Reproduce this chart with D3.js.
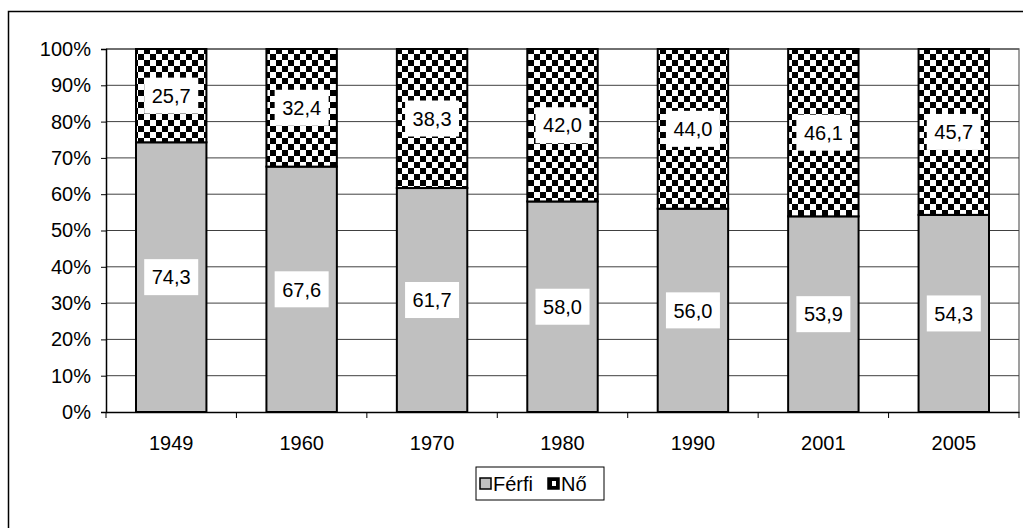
<!DOCTYPE html>
<html>
<head>
<meta charset="utf-8">
<script src="https://cdn.jsdelivr.net/npm/d3@7"></script>
<style>
  body { margin: 0; background: #fff; }
  svg { display: block; font-family: Arial, "Liberation Sans", sans-serif; }
</style>
</head>
<body>
<svg id="chart" width="1023" height="528"></svg>
<script>
const years = ['1949', '1960', '1970', '1980', '1990', '2001', '2005'];
const ferfi = [74.3, 67.6, 61.7, 58.0, 56.0, 53.9, 54.3];
const no = [25.7, 32.4, 38.3, 42.0, 44.0, 46.1, 45.7];
const yTicks = [0, 10, 20, 30, 40, 50, 60, 70, 80, 90, 100];
const seriesNames = ['Férfi', 'Nő'];

const svg = d3.select('#chart');
const plotLeft = 106, plotRight = 1019, plotTop = 49, plotBottom = 412;
const fontSize = '20px';

// checker pattern for the second series
const defs = svg.append('defs');
const pat = defs.append('pattern')
    .attr('id', 'checker')
    .attr('patternUnits', 'userSpaceOnUse')
    .attr('width', 12)
    .attr('height', 12);
pat.append('rect').attr('width', 12).attr('height', 12).attr('fill', '#fff');
pat.append('rect').attr('width', 6).attr('height', 6).attr('fill', '#000');
pat.append('rect').attr('x', 6).attr('y', 6).attr('width', 6).attr('height', 6).attr('fill', '#000');

// outer frame
svg.append('rect')
    .attr('x', 8.5).attr('y', 11.5)
    .attr('width', 1100).attr('height', 700)
    .attr('fill', 'none')
    .attr('stroke', '#000')
    .attr('stroke-width', 1.5);

const x = d3.scaleBand().domain(years).range([plotLeft, plotRight]).paddingInner(0.46).paddingOuter(0.23);
const y = d3.scaleLinear().domain([0, 100]).range([plotBottom, plotTop]);

// plot area border (top/right grey)
svg.append('path')
    .attr('d', `M${plotLeft},${plotTop}H${plotRight}V${plotBottom}`)
    .attr('fill', 'none')
    .attr('stroke', '#808080')
    .attr('stroke-width', 1.5);

// gridlines
svg.append('g')
    .selectAll('line')
    .data(yTicks.filter(d => d > 0))
    .enter()
    .append('line')
    .attr('x1', plotLeft).attr('x2', plotRight)
    .attr('y1', d => y(d)).attr('y2', d => y(d))
    .attr('stroke', '#404040')
    .attr('stroke-width', 1);

// stacked bars
const stack = years.map((yr, i) => ({ year: yr, segs: [
    { name: 'Férfi', v: ferfi[i], y0: 0, y1: ferfi[i] },
    { name: 'Nő', v: no[i], y0: ferfi[i], y1: ferfi[i] + no[i] }
]}));

const bars = svg.append('g')
    .selectAll('g')
    .data(stack)
    .enter()
    .append('g');

bars.selectAll('rect')
    .data(d => d.segs.map(s => Object.assign({ year: d.year }, s)))
    .enter()
    .append('rect')
    .attr('x', d => x(d.year))
    .attr('width', x.bandwidth())
    .attr('y', d => y(d.y1))
    .attr('height', d => y(d.y0) - y(d.y1))
    .attr('fill', d => d.name === 'Férfi' ? '#c0c0c0' : 'url(#checker)')
    .attr('stroke', '#000')
    .attr('stroke-width', 2);

// value labels
const labels = bars.selectAll('g.lbl')
    .data(d => d.segs.map(s => Object.assign({ year: d.year }, s)))
    .enter()
    .append('g')
    .attr('class', 'lbl')
    .attr('transform', d => `translate(${x(d.year) + x.bandwidth() / 2},${y((d.y0 + d.y1) / 2)})`);

labels.append('rect')
    .attr('x', -27).attr('y', -18)
    .attr('width', 54).attr('height', 36)
    .attr('fill', '#fff');

labels.append('text')
    .attr('text-anchor', 'middle')
    .attr('dy', '0.36em')
    .style('font-size', fontSize)
    .text(d => d.v.toFixed(1).replace('.', ','));

// y axis
const yAxis = svg.append('g')
    .attr('transform', `translate(${plotLeft},0)`)
    .call(d3.axisLeft(y).tickValues(yTicks).tickSize(5).tickFormat(d => d + '%'));
yAxis.select('.domain').attr('stroke', '#000').attr('stroke-width', 1.5);
yAxis.selectAll('.tick line').attr('stroke', '#000');
yAxis.selectAll('.tick text')
    .attr('x', -15)
    .style('font-size', fontSize)
    .attr('fill', '#000');

// x axis
const xAxis = svg.append('g')
    .attr('transform', `translate(0,${plotBottom})`)
    .call(d3.axisBottom(x).tickSize(0).tickPadding(24));
xAxis.select('.domain').attr('stroke', '#000').attr('stroke-width', 1.5);
xAxis.selectAll('.tick text').style('font-size', fontSize).attr('fill', '#000');
// category separator ticks
xAxis.selectAll('line.sep')
    .data(d3.range(years.length + 1))
    .enter()
    .append('line')
    .attr('class', 'sep')
    .attr('x1', i => plotLeft + i * (plotRight - plotLeft) / years.length)
    .attr('x2', i => plotLeft + i * (plotRight - plotLeft) / years.length)
    .attr('y1', 0).attr('y2', 6)
    .attr('stroke', '#000');

// legend
const legend = svg.append('g').attr('transform', 'translate(476,467)');
legend.append('rect')
    .attr('width', 128).attr('height', 33)
    .attr('fill', '#fff')
    .attr('stroke', '#000');
const items = legend.selectAll('g.item')
    .data(seriesNames)
    .enter()
    .append('g')
    .attr('class', 'item')
    .attr('transform', (d, i) => `translate(${i === 0 ? 4 : 72},0)`);
items.append('rect')
    .attr('x', 0).attr('y', 11)
    .attr('width', 11).attr('height', 11)
    .attr('fill', (d, i) => i === 0 ? '#c0c0c0' : '#000')
    .attr('stroke', '#000')
    .attr('stroke-width', 1.5);
items.filter((d, i) => i === 1).append('rect')
    .attr('x', 4).attr('y', 14)
    .attr('width', 4).attr('height', 5)
    .attr('fill', '#fff');
items.append('text')
    .attr('x', 13).attr('y', 24)
    .style('font-size', fontSize)
    .text(d => d);
</script>
</body>
</html>
